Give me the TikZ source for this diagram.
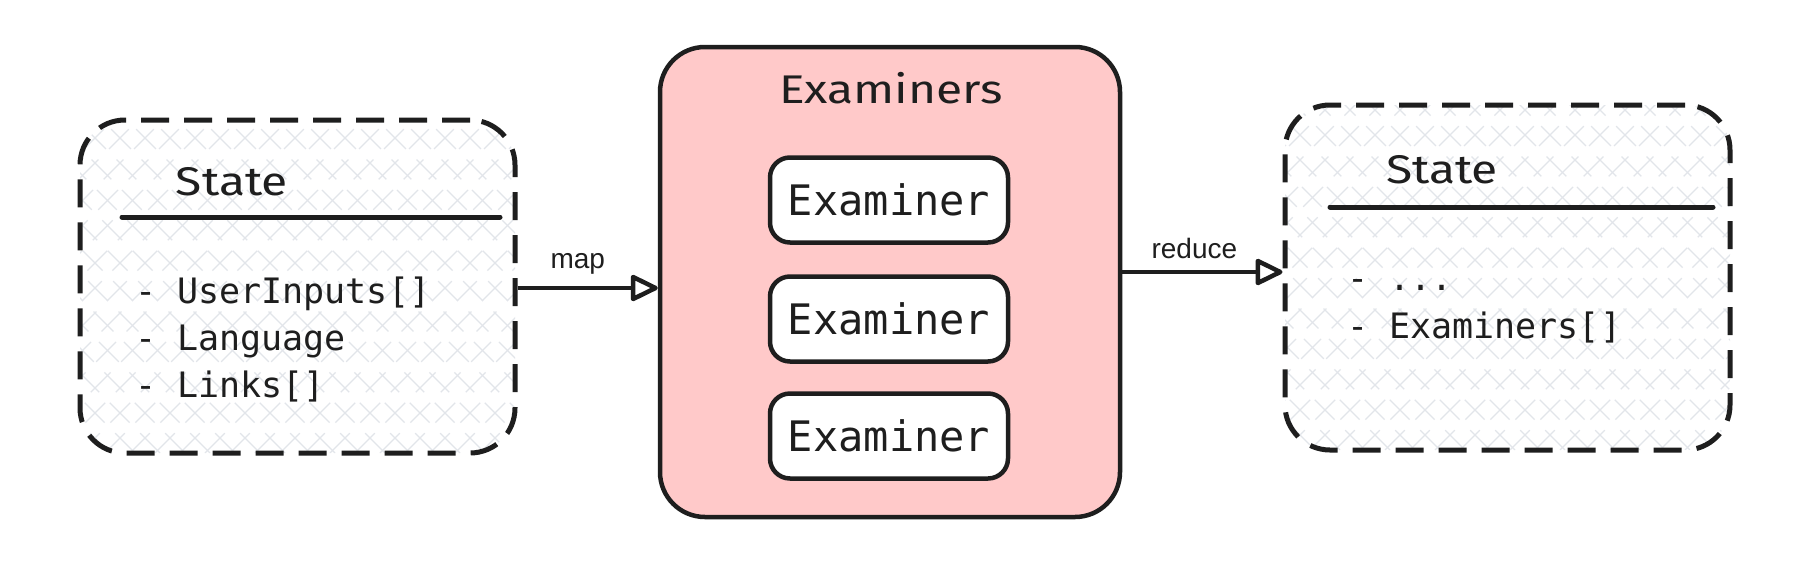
\documentclass[tikz,border=0pt]{standalone}
\usepackage{fontspec}
\usetikzlibrary{arrows.meta,calc}
\newfontfamily\handfont[FakeStretch=1.2]{Fira Sans}
\newfontfamily\monofont{DejaVu Sans Mono}
\newfontfamily\labelfont{Liberation Sans}
\definecolor{ink}{HTML}{1E1E1E}
\definecolor{pinkfill}{HTML}{FFC9C9}
\definecolor{hatchc}{HTML}{E2E5EA}
\begin{document}
\begin{tikzpicture}[x=1pt,y=-1pt,
  hatchfill/.style={path picture={
    \foreach \k in {-20,...,20}{
      \draw[hatchc, line width=1.3pt] ($(path picture bounding box.south west)+(\k*25pt,0pt)$) -- ++(520pt,520pt);
      \draw[hatchc, line width=1.3pt] ($(path picture bounding box.south west)+(\k*25pt+480pt,0pt)$) -- ++(-520pt,520pt);
    }}},
  statebox/.style={draw=ink, line width=5pt, dash pattern=on 28pt off 15pt, rounded corners=45pt, inner sep=0pt, hatchfill},
  groupbox/.style={draw=ink, fill=pinkfill, line width=4.5pt, rounded corners=45pt, inner sep=0pt, minimum width=460pt, minimum height=470pt},
  exbox/.style={draw=ink, fill=white, line width=4.5pt, rounded corners=20pt, inner sep=0pt, minimum width=238pt, minimum height=85pt, font=\monofont\fontsize{42}{50}\selectfont, text=ink},
  title/.style={font=\handfont\fontsize{40}{48}\selectfont, text=ink, inner sep=0pt},
  item/.style={font=\monofont\fontsize{35}{42}\selectfont, text=ink, inner sep=0pt, anchor=base west},
  rule/.style={draw=ink, line width=5pt, line cap=round},
  arr/.style={draw=ink, line width=4.5pt, -{Triangle[open, length=30pt, width=28pt, line join=round]}},
  lbl/.style={font=\labelfont\fontsize{28}{34}\selectfont, text=ink, inner sep=0pt}
]
\useasboundingbox[fill=white] (0,0) rectangle (1810,566);

% left state box
\node[statebox, minimum width=435pt, minimum height=333pt] (left) at (297.5,286.5) {};
\node[title] (lefttitle) at (232,182) {State};
\coordinate (lr1) at (122,217);
\coordinate (lr2) at (500,217);
\draw[rule] (lr1) -- (lr2);
\node[item] (li1) at (135,303) {- UserInputs[]};
\node[item] (li2) at (135,350) {- Language};
\node[item] (li3) at (135,397) {- Links[]};

% middle group
\node[groupbox] (mid) at (890,282) {};
\node[title] (midtitle) at (891,88) {Examiners};
\node[exbox] (ex1) at (889,200) {Examiner};
\node[exbox] (ex2) at (889,319) {Examiner};
\node[exbox] (ex3) at (889,436) {Examiner};

% right state box
\node[statebox, minimum width=445pt, minimum height=345pt] (right) at (1507.5,277.5) {};
\node[title] (righttitle) at (1442,170) {State};
\coordinate (rr1) at (1330,207);
\coordinate (rr2) at (1713,207);
\draw[rule] (rr1) -- (rr2);
\node[item] (ri1) at (1347,290) {- ...};
\node[item] (ri2) at (1347,338) {- Examiners[]};

% arrows
\draw[arr] ([yshift=-1.5pt]left.east) -- ([yshift=-1.5pt]mid.west |- left.east)
  node[lbl, pos=0.43, yshift=24pt] (maplbl) {map};
\draw[arr] ([yshift=5.5pt]mid.east |- right.west) -- ([yshift=5.5pt]right.west)
  node[lbl, pos=0.45, yshift=24pt] (redlbl) {reduce};
\end{tikzpicture}
\end{document}
